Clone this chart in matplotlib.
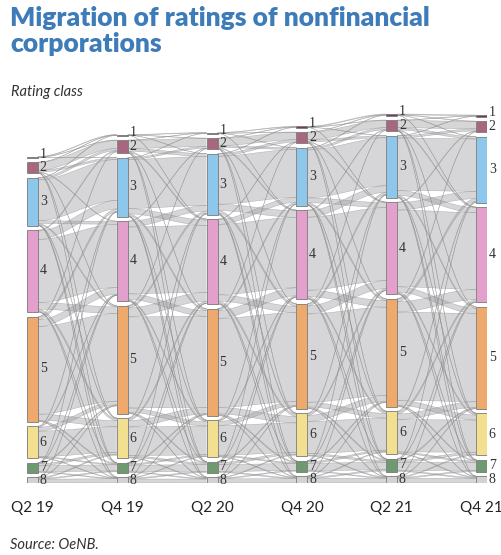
import numpy as np
import matplotlib.pyplot as plt
from matplotlib.patches import Rectangle, Polygon

# Zeitpunkte und Ratingklassen
perioder = ["Q2 19", "Q4 19", "Q2 20", "Q4 20", "Q2 21", "Q4 21"]
klassen = ["1", "2", "3", "4", "5", "6", "7", "8"]

# Anzahl Unternehmen je Ratingklasse (relative Größen, Klasse 1 bis 8)
q2_19 = [1.0, 11, 48, 82, 105, 32, 10, 6]
q4_19 = [1.0, 13, 59, 80, 108, 40, 10, 6]
q2_20 = [1.0, 11, 61, 85, 107, 37, 11, 6]
q4_20 = [1.2, 11, 58, 89, 105, 43, 11, 7]
q2_21 = [1.5, 11, 62, 92, 108, 43, 13, 7]
q4_21 = [1.5, 11, 66, 95, 102, 42, 12, 7]
bestand = [q2_19, q4_19, q2_20, q4_20, q2_21, q4_21]

# Typische Wanderungsanteile von Klasse i (Zeile) nach Klasse j (Spalte)
wanderung = [
    [0.50, 0.30, 0.15, 0.05, 0.00, 0.00, 0.00, 0.00],
    [0.03, 0.62, 0.20, 0.08, 0.04, 0.02, 0.01, 0.00],
    [0.005, 0.03, 0.80, 0.10, 0.04, 0.015, 0.005, 0.005],
    [0.00, 0.005, 0.06, 0.82, 0.08, 0.025, 0.007, 0.003],
    [0.00, 0.002, 0.015, 0.07, 0.84, 0.055, 0.012, 0.006],
    [0.00, 0.00, 0.01, 0.03, 0.12, 0.78, 0.04, 0.02],
    [0.00, 0.00, 0.01, 0.02, 0.06, 0.15, 0.68, 0.08],
    [0.00, 0.00, 0.00, 0.01, 0.04, 0.10, 0.15, 0.70],
]

farben = ["#7a3a55", "#a8667f", "#8dc8ec", "#e3a0cd",
          "#eeaa6c", "#f3df90", "#6f9a70", "#d2d2d2"]

luecke = 4.5
hb = 0.0613  # halbe Balkenbreite


def fluesse(quelle, ziel):
    # Übergangsmatrix an beide Randsummen anpassen
    q = np.array(quelle, float)
    z = np.array(ziel, float)
    F = q[:, None] * np.array(wanderung)
    for _ in range(300):
        cs = F.sum(0)
        F *= np.where(cs > 0, z / np.where(cs > 0, cs, 1), 0)[None, :]
        rs = F.sum(1)
        F *= np.where(rs > 0, q / np.where(rs > 0, rs, 1), 0)[:, None]
    return F


def stapel(werte):
    unten = np.zeros(len(werte))
    y = 0.0
    for k in range(len(werte) - 1, -1, -1):
        unten[k] = y
        y += werte[k] + luecke
    return unten


fig = plt.figure(figsize=(5.02, 5.55), dpi=100)
ax = fig.add_axes([27 / 502, 1 - 483 / 555, 460 / 502, 373 / 555])

unten_alle = [stapel(w) for w in bestand]

# Bänder zwischen den Zeitpunkten
t = np.linspace(0, 1, 50)
s = 3 * t**2 - 2 * t**3
for p in range(len(perioder) - 1):
    F = fluesse(bestand[p], bestand[p + 1])
    oben_q = unten_alle[p] + np.array(bestand[p])
    oben_z = unten_alle[p + 1] + np.array(bestand[p + 1])
    versatz_z = np.zeros(8)
    xa, xb = p + hb, p + 1 - hb
    xs = xa + (xb - xa) * t
    for i in range(8):
        versatz_q = 0.0
        for j in range(8):
            f = F[i, j]
            if f < 0.03:
                versatz_q += f
                continue
            q_top = oben_q[i] - versatz_q
            z_top = oben_z[j] - versatz_z[j]
            versatz_q += f
            versatz_z[j] += f
            ob = q_top + (z_top - q_top) * s
            un = ob - f
            pts = np.column_stack([np.r_[xs, xs[::-1]], np.r_[ob, un[::-1]]])
            ax.add_patch(Polygon(pts, closed=True, facecolor="#a4a4aa",
                                 alpha=0.45, edgecolor="none", zorder=1))
            ax.plot(xs, ob, color="#8a8a8a", lw=0.35, alpha=0.6, zorder=2)
            ax.plot(xs, un, color="#8a8a8a", lw=0.35, alpha=0.6, zorder=2)

# Balken und Beschriftungen der Ratingklassen
for p, werte in enumerate(bestand):
    for k, w in enumerate(werte):
        y0 = unten_alle[p][k]
        ax.add_patch(Rectangle((p - hb, y0), 2 * hb, w, facecolor=farben[k],
                               edgecolor="#7a7a7a", lw=0.6, zorder=3))
        ax.text(p + hb + 0.02, y0 + w / 2 + (3 if k == 0 else 0), klassen[k],
                fontfamily="Liberation Serif", fontsize=10, color="#333333",
                va="center", ha="left", zorder=4)

ax.set_xlim(-hb, len(perioder) - 1 + hb)
ax.set_ylim(0, 373)
ax.set_xticks(range(len(perioder)))
ax.set_xticklabels(perioder, fontfamily="Lato", fontsize=11, color="#222222")
ax.tick_params(axis="x", length=0, pad=13)
ax.set_yticks([])
for sp in ax.spines.values():
    sp.set_visible(False)

fig.text(10 / 502, 1 - 6 / 555, "Migration of ratings of nonfinancial\ncorporations",
         fontfamily="Lato", fontweight="heavy", fontsize=19, color="#3d7cb9",
         va="top", ha="left", linespacing=1.08)
fig.text(11 / 502, 1 - 92 / 555, "Rating class", fontfamily="Lato", style="italic",
         fontsize=10.5, color="#333333", va="center", ha="left")
fig.text(10 / 502, 1 - 545 / 555, "Source: OeNB.", fontfamily="Lato", style="italic",
         fontsize=10.5, color="#333333", va="center", ha="left")

fig.savefig("out.png", dpi=100)
